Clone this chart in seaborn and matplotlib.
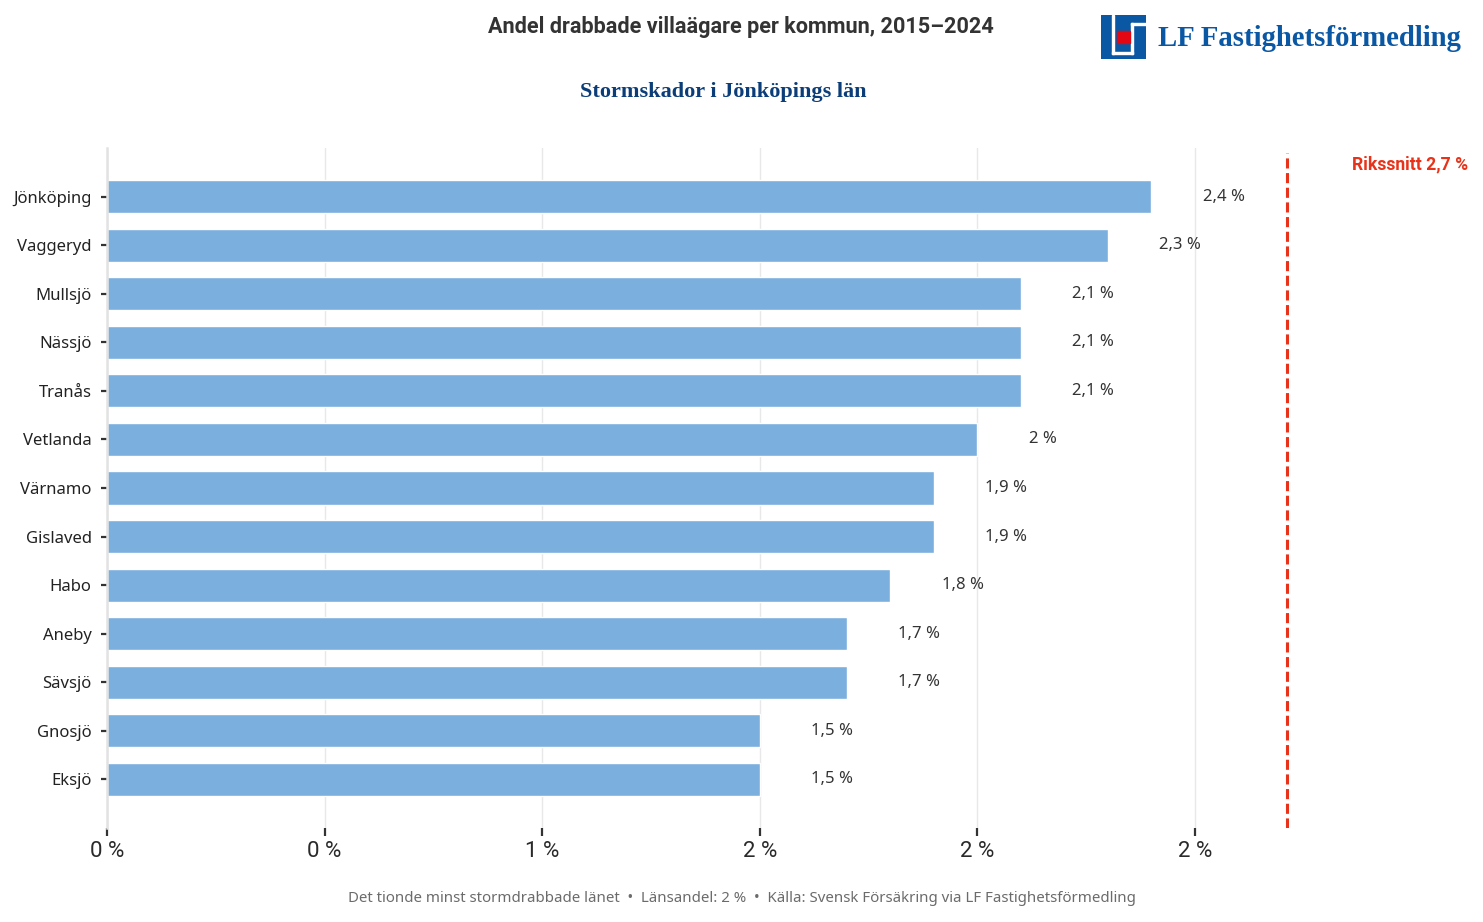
import numpy as np
import pandas as pd
import matplotlib
matplotlib.use('Agg')
import matplotlib.pyplot as plt
import matplotlib.patches as mpatches
import matplotlib.transforms as mtransforms
import seaborn as sns

# Data
kommuner = ['Jönköping', 'Vaggeryd', 'Mullsjö', 'Nässjö', 'Tranås', 'Vetlanda',
            'Värnamo', 'Gislaved', 'Habo', 'Aneby', 'Sävsjö', 'Gnosjö', 'Eksjö']
andel = [2.4, 2.3, 2.1, 2.1, 2.1, 2.0, 1.9, 1.9, 1.8, 1.7, 1.7, 1.5, 1.5]
rikssnitt = 2.7
x_ticks = [0, 0.5, 1.0, 1.5, 2.0, 2.5]

title = 'Andel drabbade villaägare per kommun, 2015–2024'
subtitle = 'Stormskador i Jönköpings län'
footer = ('Det tionde minst stormdrabbade länet  •  Länsandel: 2 %  •  '
          'Källa: Svensk Försäkring via LF Fastighetsförmedling')

df = pd.DataFrame({'kommun': kommuner, 'andel': andel})

sns.set_theme(style='white')
plt.rcParams['font.family'] = ['Noto Sans', 'DejaVu Sans']
bold_fam = ['Roboto', 'DejaVu Sans']
serif_fam = ['Liberation Serif', 'DejaVu Serif']

W, H = 1483, 922
fig = plt.figure(figsize=(W / 100, H / 100), dpi=100)

# axes in pixel coords
left, right, top, bottom = 107, 1470, 148, 828
ax = fig.add_axes([left / W, 1 - bottom / H, (right - left) / W, (bottom - top) / H])

bar_col = '#7BAFDE'
sns.barplot(data=df, x='andel', y='kommun', color=bar_col, width=0.68,
            orient='h', ax=ax, saturation=1)

px_per_unit = 435.2
ax.set_xlim(0, (right - left) / px_per_unit)
ax.set_ylim(len(kommuner) + 0.0, -1.0)

ax.set_xticks(x_ticks)
ax.set_xticklabels([f'{round(t)} %' for t in x_ticks], fontsize=16,
                   color='#2a2a2a', family=['Roboto', 'DejaVu Sans'], fontweight='normal')
ax.grid(axis='x', color='#e8e8e8', linewidth=1)
ax.set_axisbelow(True)
ax.tick_params(axis='x', length=6, width=1.6, color='#333333', pad=3, direction='out',
               bottom=True)
ax.tick_params(axis='y', length=4, width=1.6, color='#333333', pad=7, labelsize=12,
               left=True, labelcolor='#222222')
ax.set_xlabel('')
ax.set_ylabel('')
for s in ['top', 'right', 'bottom']:
    ax.spines[s].set_visible(False)
ax.spines['left'].set_color('#e2e2e2')
ax.spines['left'].set_linewidth(1.8)

# value labels
labels = [f'{v:g}'.replace('.', ',') + ' %' for v in andel]
ax.bar_label(ax.containers[0], labels=labels, padding=37, fontsize=12, color='#333333')

# national average
shift = mtransforms.ScaledTranslation(5 / 100, 0, fig.dpi_scale_trans)
avg_line = ax.axvline(rikssnitt, ymin=0, ymax=0.993, color='#E8321A', linewidth=2.2,
                      linestyle=(0, (3.3, 1.5)))
avg_line.set_transform(ax.get_xaxis_transform() + shift)
fig.text(1468 / W, 1 - 164 / H, f'Rikssnitt {rikssnitt:g} %'.replace('.', ','),
         ha='right', va='center', fontsize=12.7, fontweight='bold', color='#E8321A',
         family=bold_fam)

# titles
fig.text(741 / W, 1 - 27.5 / H, title, ha='center', va='center', fontsize=15.6,
         fontweight='bold', color='#333333', family=bold_fam)
fig.text(723 / W, 1 - 91.5 / H, subtitle, ha='center', va='center', fontsize=16,
         fontweight='bold', color='#0B3D78', family=serif_fam)
fig.text(742 / W, 1 - 898.5 / H, footer, ha='center', va='center', fontsize=10.8,
         color='#6b6b6b')

# logo
lax = fig.add_axes([1101 / W, 1 - 59 / H, 45 / W, 44 / H])
lax.set_xlim(0, 45)
lax.set_ylim(44, 0)
lax.axis('off')
blue = '#0A57A4'
lax.add_patch(mpatches.Rectangle((0, 0), 45, 44, color=blue))
for (x0, y0, w, h) in [(10.7, 0, 2, 38.7), (10.7, 36.7, 21, 2),
                       (29.7, 8.3, 2, 30.4), (29.7, 8.3, 15.3, 2)]:
    lax.add_patch(mpatches.Rectangle((x0, y0), w, h, color='white'))
lax.add_patch(mpatches.Rectangle((16, 15.7), 12.7, 12.6, color='#E30613'))
fig.text(1158 / W, 1 - 38 / H, 'LF Fastighetsförmedling', ha='left', va='center',
         fontsize=20.7, fontweight='bold', color=blue, family=serif_fam)

fig.savefig('out.png', dpi=100)
